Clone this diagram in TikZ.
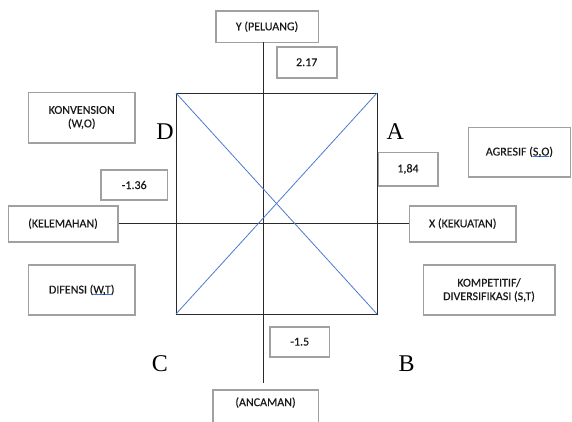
\documentclass[tikz,border=0pt]{standalone}
\usepackage{fontspec}
\setmainfont{Carlito}
\newfontfamily\boxfont{Carlito}[FakeBold=0.3]
\newfontfamily\letterfont{Liberation Serif}
\definecolor{boxgray}{HTML}{A0A0A0}
\definecolor{diagblue}{HTML}{4A7BD0}
\definecolor{ulblue}{HTML}{3E6FD8}
\definecolor{axisgray}{HTML}{2A2A2A}
\newcommand\squl[1]{\setbox0\hbox{#1}\rlap{\color{ulblue}\rule[-1.8pt]{\wd0}{0.8pt}}\box0}
\tikzset{
  lbox/.style={draw=boxgray, line width=1.6pt, fill=white, font=\boxfont\fontsize{12}{13.5}\selectfont,
    text=black!90, align=center, inner sep=0pt},
  quad/.style={font=\letterfont\fontsize{24}{24}\selectfont, text=black, inner sep=0pt},
  axisline/.style={draw=axisgray, line width=0.9pt},
  diag/.style={draw=diagblue, line width=0.8pt},
}
\begin{document}
\begin{tikzpicture}[x=1pt,y=-1pt]
\useasboundingbox (0,0) rectangle (572,421);
\fill[white] (0,0) rectangle (572,421);
% square corners
\coordinate (tl) at (176,93);
\coordinate (tr) at (377,93);
\coordinate (bl) at (176,314);
\coordinate (br) at (377,314);
% boxes
\node[lbox, minimum width=102.6pt, minimum height=31.3pt] (ypel) at (267,26.7) {Y (PELUANG)};
\node[lbox, minimum width=60pt, minimum height=31pt] (v217) at (306.7,62.2) {2.17};
\node[lbox, minimum width=106.7pt, minimum height=50.4pt] (konv) at (81.7,117.5) {KONVENSION\\(W,O)};
\node[lbox, minimum width=66.3pt, minimum height=30pt] (v136) at (134.2,185) {-1.36};
\node[lbox, minimum width=109.4pt, minimum height=36pt] (kel) at (63,223.7) {(KELEMAHAN)};
\node[lbox, minimum width=59.4pt, minimum height=33.4pt] (v184) at (408,169) {1,84};
\node[lbox, minimum width=102.2pt, minimum height=49.4pt] (agr) at (519.4,152) {AGRESIF (\squl{S,O})};
\node[lbox, minimum width=106.7pt, minimum height=36pt] (kek) at (462.7,223.7) {X (KEKUATAN)};
\node[lbox, minimum width=106.7pt, minimum height=50pt] (dif) at (81.7,290) {DIFENSI (\squl{W,T})};
\node[lbox, minimum width=131.4pt, minimum height=50pt] (komp) at (489,290) {KOMPETITIF/\\DIVERSIFIKASI (S,T)};
\node[lbox, minimum width=59.3pt, minimum height=30pt] (v15) at (299.7,341.7) {-1.5};
\node[lbox, minimum width=105.6pt, anchor=north, text height=16pt, text depth=22pt] (anc) at (265.5,389.3) {(ANCAMAN)};
% axes
\coordinate (vtop) at (263.3,42.3);
\coordinate (vbot) at (263.3,382.7);
\draw[axisline] (vtop) -- (vbot);
\draw[axisline] (kel.east |- 0,223.3) -- (kek.west |- 0,223.3);
% square
\draw[axisline] (tl) rectangle (br);
% diagonals
\draw[diag] (tl) -- (br);
\draw[diag] (bl) -- (tr);
% quadrant letters
\node[quad] (qd) at (165,131.7) {D};
\node[quad] (qa) at (395.3,131.7) {A};
\node[quad] (qc) at (160,363.3) {C};
\node[quad] (qb) at (406.7,363.3) {B};
\end{tikzpicture}
\end{document}
